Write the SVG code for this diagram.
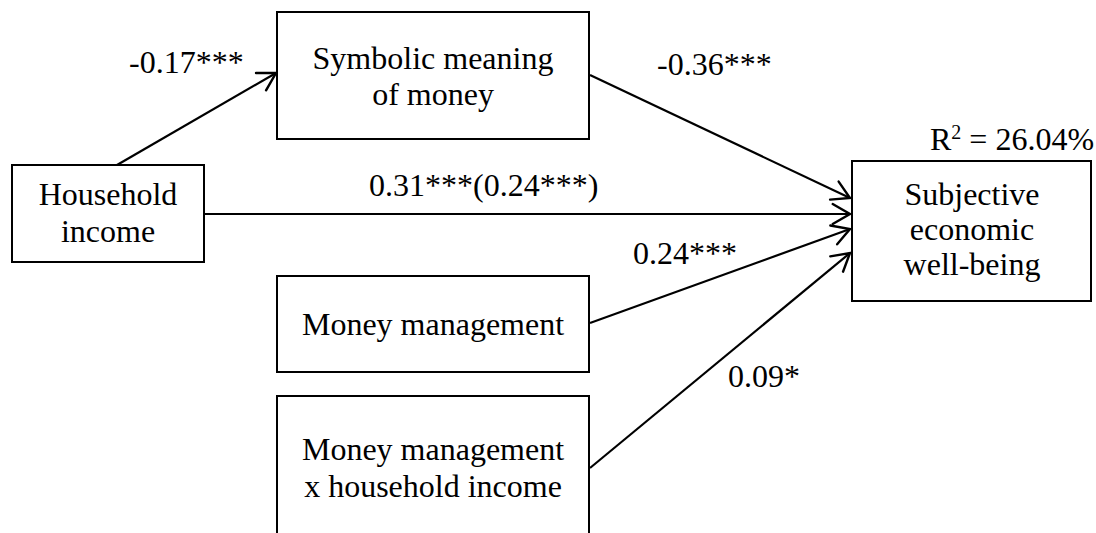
<svg xmlns="http://www.w3.org/2000/svg" width="1096" height="533" viewBox="0 0 1096 533">
<style>
.box{fill:#fff;stroke:#000;stroke-width:2}
.t{font-family:"Liberation Serif","Times New Roman",serif;font-size:32px;fill:#000}
.m{text-anchor:middle}
.c{fill:none;stroke:#000;stroke-width:2.2;marker-end:url(#ah)}
</style>
<defs>
<marker id="ah" markerUnits="userSpaceOnUse" markerWidth="24" markerHeight="24" viewBox="-20 -12 24 24" refX="0" refY="0" orient="auto">
<path d="M -17.3 -10 L 0 0 L -17.3 10" fill="none" stroke="#000" stroke-width="2.4" stroke-linecap="round" stroke-linejoin="miter"/>
</marker>
</defs>
<rect width="1096" height="533" fill="#fff"/>
<g id="connectors">
<line class="c" x1="117" y1="165" x2="276" y2="73"/>
<line class="c" x1="590" y1="75" x2="850" y2="198"/>
<line class="c" x1="204" y1="214" x2="850" y2="214"/>
<line class="c" x1="590" y1="323" x2="850" y2="229"/>
<line class="c" x1="590" y1="468" x2="850" y2="253"/>
</g>
<g id="labels">
<text class="t" x="129" y="73">-0.17***</text>
<text class="t" x="657" y="75">-0.36***</text>
<text class="t" x="369" y="196">0.31***(0.24***)</text>
<text class="t" x="633" y="264">0.24***</text>
<text class="t" x="728" y="387">0.09*</text>
</g>
<g id="node-symbolic">
<rect class="box" x="277" y="12" width="312" height="127"/>
<text class="t m" x="433" y="69">Symbolic meaning</text>
<text class="t m" x="433" y="105">of money</text>
</g>
<g id="node-household">
<rect class="box" x="12" y="165" width="192" height="97"/>
<text class="t m" x="108" y="205">Household</text>
<text class="t m" x="108" y="242">income</text>
</g>
<g id="node-subjective">
<rect class="box" x="852" y="161" width="239" height="140"/>
<text class="t m" x="972" y="205">Subjective</text>
<text class="t m" x="972" y="240">economic</text>
<text class="t m" x="972" y="275">well-being</text>
<text class="t" x="930" y="150">R<tspan font-size="20" dy="-11">2</tspan><tspan dy="11"> = 26.04%</tspan></text>
</g>
<g id="node-money-management">
<rect class="box" x="277" y="276" width="312" height="96"/>
<text class="t m" x="433" y="335">Money management</text>
</g>
<g id="node-interaction">
<rect class="box" x="277" y="396" width="312" height="150"/>
<text class="t m" x="433" y="460">Money management</text>
<text class="t m" x="433" y="497">x household income</text>
</g>
</svg>
